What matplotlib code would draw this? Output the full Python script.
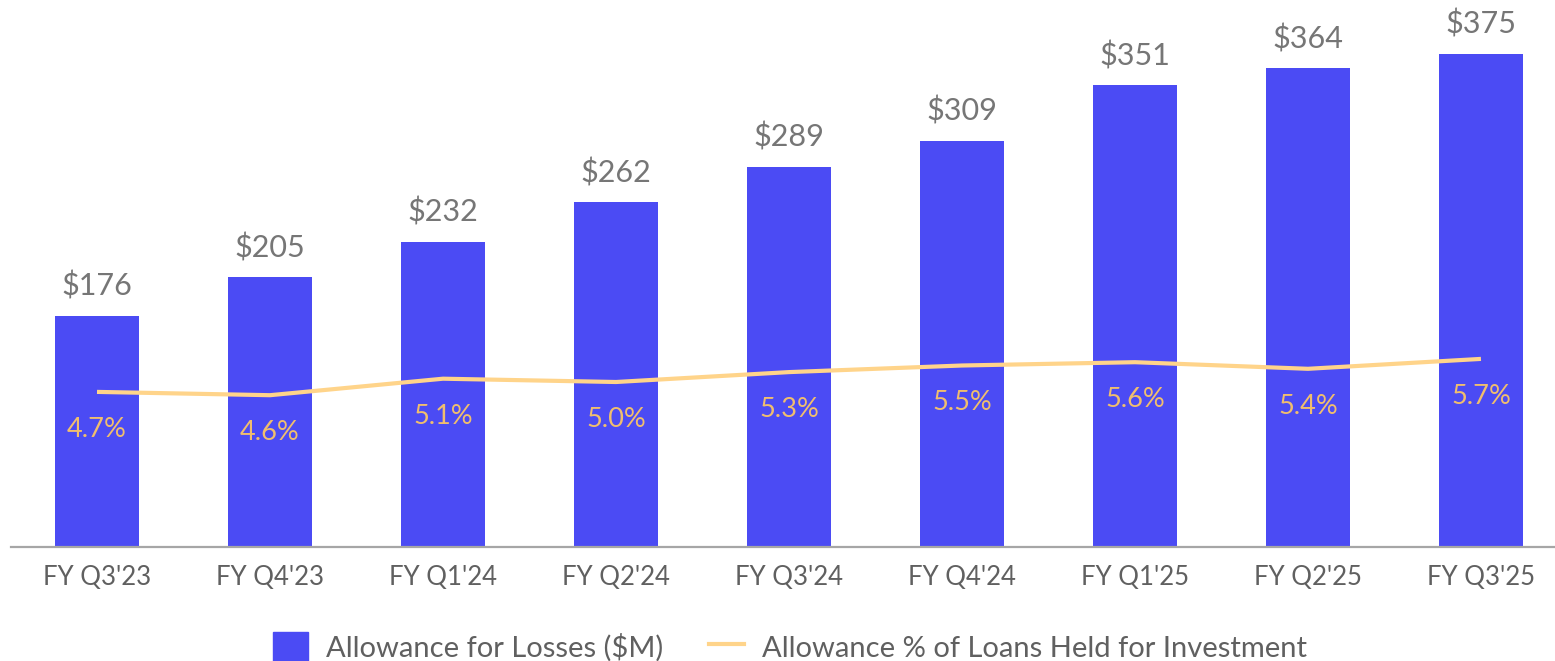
import matplotlib.pyplot as plt
from matplotlib.lines import Line2D
from matplotlib.patches import Patch

# quarterly allowance data
quarters = ["FY Q3'23", "FY Q4'23", "FY Q1'24", "FY Q2'24", "FY Q3'24",
            "FY Q4'24", "FY Q1'25", "FY Q2'25", "FY Q3'25"]
allowance_m = [176, 205, 232, 262, 289, 309, 351, 364, 375]
allowance_pct = [4.7, 4.6, 5.1, 5.0, 5.3, 5.5, 5.6, 5.4, 5.7]

BAR_COLOR = '#4B4BF4'
LINE_COLOR = '#FFD48A'
PCT_TEXT = '#F0BE6E'
GRAY_TEXT = '#767676'

plt.rcParams['font.family'] = ['Lato', 'DejaVu Sans']

fig = plt.figure(figsize=(15.55, 6.61), dpi=100)
ax = fig.add_axes([10.5 / 1555, 114 / 661, (1555 - 10.5) / 1555, 547 / 661])

x = list(range(len(quarters)))
ax.bar(x, allowance_m, width=0.485, color=BAR_COLOR, zorder=2)
ax.set_xlim(-0.5, 8.428)
ax.set_ylim(0, 416)

for xi, v in zip(x, allowance_m):
    ax.annotate(f'${v}', (xi, v), xytext=(0, 11), textcoords='offset points',
                ha='center', va='bottom', fontsize=22, color=GRAY_TEXT)

# percentage line on a second axis
ax2 = ax.twinx()
ax2.plot(x, allowance_pct, color=LINE_COLOR, lw=3, zorder=3,
         solid_capstyle='butt')
ax2.set_ylim(0, 547 / 33)
for xi, p in zip(x, allowance_pct):
    ax2.annotate(f'{p:.1f}%', (xi, p), xytext=(0, -27), textcoords='offset points',
                 ha='center', va='center', fontsize=19.5, color=PCT_TEXT)

for a in (ax, ax2):
    for s in ('top', 'right', 'left'):
        a.spines[s].set_visible(False)
    a.set_yticks([])
ax2.spines['bottom'].set_visible(False)
ax.spines['bottom'].set_color('#A6A6A6')
ax.spines['bottom'].set_linewidth(1.6)

ax.set_xticks(x)
ax.set_xticklabels(quarters, fontsize=18.5, color='#606060')
ax.tick_params(axis='x', length=0, pad=13)

handles = [Patch(color=BAR_COLOR, label='Allowance for Losses ($M)'),
           Line2D([], [], color=LINE_COLOR, lw=3,
                  label='Allowance % of Loans Held for Investment')]
fig.legend(handles=handles, loc='center', bbox_to_anchor=(790 / 1555, 1 - 647 / 661),
           ncol=2, frameon=False, fontsize=21, labelcolor='#606060',
           handlelength=1.2, handleheight=1.2, columnspacing=1.6, handletextpad=0.6)

fig.savefig('out.png', dpi=100)
